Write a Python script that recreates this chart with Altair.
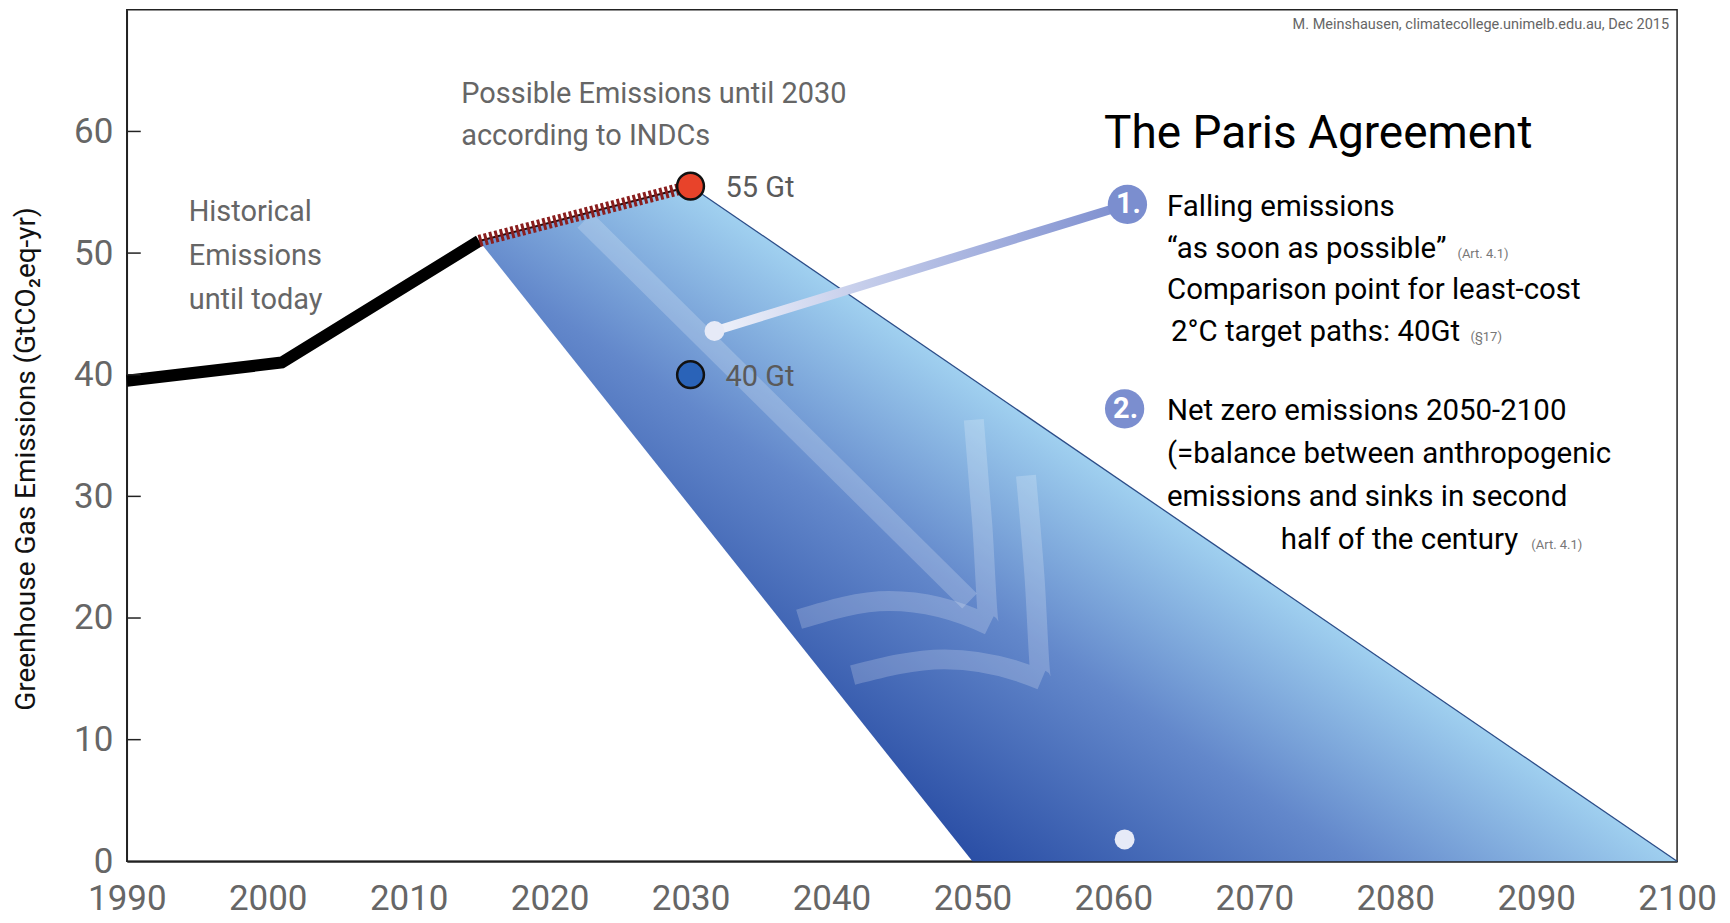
import altair as alt
import pandas as pd

FONT = "Roboto, Liberation Sans, sans-serif"

# ---------------- data ----------------
hist_year = [1990, 2001, 2015]
hist_val = [39.5, 41.0, 51.0]

indc_year = [2015, 2030]
indc_val = [51.0, 55.5]

band_year = [2015, 2030, 2100, 2050]
band_val = [51.0, 55.5, 0.0, 0.0]

edge_year = [2030, 2100]
edge_val = [55.5, 0.0]

point_year = [2030, 2030]
point_val = [55.5, 40.0]
point_label = ["55 Gt", "40 Gt"]
point_color = ["#e8432a", "#2a63b8"]

y_tick_values = [0, 10, 20, 30, 40, 50, 60]
x_tick_values = [1990, 2000, 2010, 2020, 2030, 2040, 2050, 2060, 2070, 2080, 2090, 2100]

# decorative arrow inside the band
shaft_year = [2022.5, 2049.8]
shaft_val = [52.7, 21.4]
chev1_year = [2037.7, 2044.1, 2051.2, 2050.7, 2050.1]
chev1_val = [19.9, 21.4, 19.4, 27.7, 36.3]
chev2_year = [2041.5, 2048.0, 2054.9, 2054.4, 2053.8]
chev2_val = [15.3, 16.6, 14.9, 23.5, 31.7]

# numbered callouts
call1_year = [2031.7, 2061.0]
call1_val = [43.6, 54.0]
call2_year = [2060.8, 2060.8]
call2_val = [37.2, 1.8]
marker_year = [2061.0, 2060.8]
marker_val = [54.0, 37.2]
marker_label = ["1.", "2."]
enddot_year = [2031.7, 2060.8]
enddot_val = [43.6, 1.8]

# texts
credit_text = "M. Meinshausen, climatecollege.unimelb.edu.au, Dec 2015"
title_text = "The Paris Agreement"
indc_text = ["Possible Emissions until 2030", "according to INDCs"]
hist_text = ["Historical", "Emissions", "until today"]
item1_text = ["Falling emissions", "\u201cas soon as possible\u201d",
              "Comparison point for least-cost", " 2\u00b0C target paths: 40Gt"]
item2_text = ["Net zero emissions 2050-2100", "(=balance between anthropogenic",
              "emissions and sinks in second", "half of the century"]
ref_text = ["(Art. 4.1)", "(\u00a717)", "(Art. 4.1)"]
ytitle_text = "Greenhouse Gas Emissions (GtCO\u2082eq-yr)"

W, H = 1553, 853

# ---------------- helpers ----------------
def X():
    return alt.X("year:Q",
                 scale=alt.Scale(domain=[1990, 2100], nice=False, zero=False),
                 axis=alt.Axis(values=x_tick_values, format="d", title=None, grid=False,
                               ticks=False, labelPadding=20, labelFontSize=35,
                               labelColor="#666666", labelFont=FONT, labelOverlap=False,
                               labelFlush=False,
                               domainColor="#222222", domainWidth=2))

def Y():
    return alt.Y("val:Q",
                 scale=alt.Scale(domain=[0, 70], nice=False, zero=True),
                 axis=alt.Axis(values=y_tick_values, title=None, grid=False,
                               ticks=False, labelPadding=14, labelFontSize=35,
                               labelColor="#666666", labelFont=FONT, labelOverlap=False,
                               labelFlush=False,
                               domainColor="#222222", domainWidth=1.5))

def df(years, vals, **extra):
    d = {"year": years, "val": vals, "i": list(range(len(years)))}
    d.update(extra)
    return pd.DataFrame(d)

def note(text, x, y, size, color="#000000", align="left", baseline="alphabetic",
         weight="normal", angle=0):
    return alt.Chart(pd.DataFrame({"t": [text]})).mark_text(
        font=FONT, fontSize=size, color=color, align=align, baseline=baseline,
        fontWeight=weight, angle=angle
    ).encode(x=alt.value(x), y=alt.value(y), text="t:N")

# ---------------- layers ----------------
band_grad = alt.Gradient(
    gradient="linear",
    stops=[alt.GradientStop(color="#2a4ea5", offset=0),
           alt.GradientStop(color="#6388cb", offset=0.55),
           alt.GradientStop(color="#9fcfef", offset=1)],
    x1=0.41, y1=1, x2=0.76, y2=0.71)

band = alt.Chart(df(band_year, band_val)).mark_line(
    fill=band_grad, strokeOpacity=0, strokeWidth=0
).encode(x=X(), y=Y(), order="i:O")

edge = alt.Chart(df(edge_year, edge_val)).mark_line(
    color="#2c4d88", strokeWidth=1.3
).encode(x=X(), y=Y(), order="i:O")

shaft = alt.Chart(df(shaft_year, shaft_val)).mark_line(
    color="#ffffff", opacity=0.2, strokeWidth=21, strokeCap="butt"
).encode(x=X(), y=Y(), order="i:O")

chev1 = alt.Chart(df(chev1_year, chev1_val)).mark_line(
    color="#ffffff", opacity=0.2, strokeWidth=20, interpolate="monotone", strokeJoin="miter"
).encode(x=X(), y=Y(), order="i:O")

chev2 = alt.Chart(df(chev2_year, chev2_val)).mark_line(
    color="#ffffff", opacity=0.2, strokeWidth=20, interpolate="monotone", strokeJoin="miter"
).encode(x=X(), y=Y(), order="i:O")

hist = alt.Chart(df(hist_year, hist_val)).mark_line(
    color="#000000", strokeWidth=12, strokeCap="butt", strokeJoin="miter"
).encode(x=X(), y=Y(), order="i:O")

indc_base = alt.Chart(df(indc_year, indc_val)).mark_line(
    color="#2a0a0a", strokeWidth=2
).encode(x=X(), y=Y(), order="i:O")

indc = alt.Chart(df(indc_year, indc_val)).mark_line(
    color="#8a1e1e", strokeWidth=12, strokeDash=[3, 2.5], strokeCap="butt"
).encode(x=X(), y=Y(), order="i:O")

call1 = alt.Chart(df(call1_year, call1_val)).mark_line(
    strokeWidth=9, strokeCap="butt",
    stroke=alt.Gradient(gradient="linear",
                        stops=[alt.GradientStop(color="#eef1fa", offset=0),
                               alt.GradientStop(color="#7d8ecf", offset=1)],
                        x1=0, y1=0, x2=1, y2=0)
).encode(x=X(), y=Y(), order="i:O")

call2 = alt.Chart(df(call2_year, call2_val)).mark_line(
    strokeWidth=7, strokeCap="butt",
    stroke=alt.Gradient(gradient="linear",
                        stops=[alt.GradientStop(color="#8896d4", offset=0),
                               alt.GradientStop(color="#c6cbee", offset=1)],
                        x1=0, y1=0, x2=0, y2=1)
).encode(x=X(), y=Y(), order="i:O")

enddots = alt.Chart(df(enddot_year, enddot_val)).mark_circle(
    size=400, color="#e6eaf7", opacity=1
).encode(x=X(), y=Y())

markers = alt.Chart(df(marker_year, marker_val)).mark_circle(
    size=1550, color="#7b8ecf", opacity=1
).encode(x=X(), y=Y())

marker_txt = alt.Chart(df(marker_year, marker_val, lab=marker_label)).mark_text(
    font=FONT, fontSize=29, fontWeight="bold", color="#ffffff", baseline="middle", dx=1
).encode(x=X(), y=Y(), text="lab:N")

points = alt.Chart(df(point_year, point_val, c=point_color)).mark_circle(
    size=720, opacity=1, stroke="#111111", strokeWidth=2.5
).encode(x=X(), y=Y(), color=alt.Color("c:N", scale=None))

point_txt = alt.Chart(df(point_year, point_val, lab=point_label)).mark_text(
    font=FONT, fontSize=29, color="#5a5a5a", align="left", baseline="middle", dx=35, dy=2
).encode(x=X(), y=Y(), text="lab:N")

yticks = alt.Chart(pd.DataFrame({"val": y_tick_values[1:]})).mark_rule(
    color="#222222", strokeWidth=1.5
).encode(y=Y(), x=alt.value(0), x2=alt.value(14))

BODY = 29.5
GREY = 29
texts = [
    note(credit_text, 1545, 19, 14.5, "#666666", align="right"),
    note(title_text, 979, 138, 46, "#000000"),
    note(indc_text[0], 335, 93, GREY, "#666666"),
    note(indc_text[1], 335, 135, GREY, "#666666"),
    note(hist_text[0], 62, 212, GREY, "#666666"),
    note(hist_text[1], 62, 256, GREY, "#666666"),
    note(hist_text[2], 62, 300, GREY, "#666666"),
    note(item1_text[0], 1042, 207, BODY),
    note(item1_text[1], 1042, 249, BODY),
    note(item1_text[2], 1042, 290, BODY),
    note(item1_text[3], 1046, 332, BODY),
    note(item2_text[0], 1042, 411, BODY),
    note(item2_text[1], 1042, 454, BODY),
    note(item2_text[2], 1042, 497, BODY),
    note(item2_text[3], 1156, 540, BODY),
    note(ref_text[0], 1333, 249, 13, "#777777"),
    note(ref_text[1], 1346, 332, 13, "#777777"),
    note(ref_text[2], 1407, 540, 13, "#777777"),
    note(ytitle_text, -100, 450, 28, "#111111", align="center", baseline="middle", angle=270),
]

chart = alt.layer(
    band, edge, shaft, chev1, chev2, hist, indc_base, indc,
    call1, call2, enddots, markers, marker_txt, points, point_txt, yticks, *texts
).properties(
    width=W, height=H,
    padding={"left": 5, "top": 1, "right": 5, "bottom": 3},
    background="#ffffff"
).configure_view(
    stroke="#222222", strokeWidth=1.5
)

chart.save("out.html", embed_options={"renderer": "svg", "actions": False})
